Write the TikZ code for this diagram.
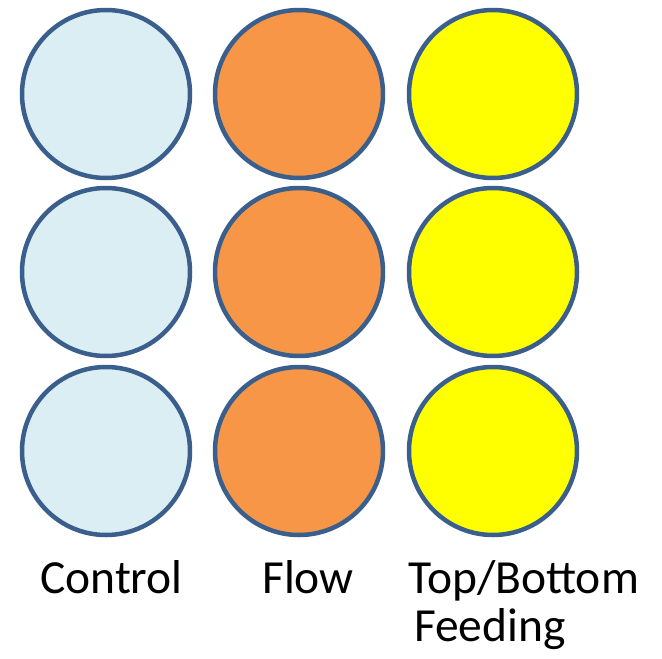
\documentclass[tikz,border=0pt]{standalone}
\usepackage{fontspec}
\setmainfont{Carlito}
\definecolor{ringblue}{HTML}{3A5F8C}
\definecolor{paleblue}{HTML}{DBEEF4}
\definecolor{orangefill}{HTML}{F79646}
\definecolor{yellowfill}{HTML}{FFFF00}
\tikzset{
  dish/.style={circle, draw=ringblue, line width=4.5pt, minimum size=168pt, inner sep=0pt},
  lab/.style={font=\fontsize{47.5}{48}\selectfont, inner sep=0pt, anchor=base west}
}
\begin{document}
\begin{tikzpicture}[x=1pt,y=-1pt]
\useasboundingbox (0,0) rectangle (662,659);
\foreach \r/\yy in {1/94,2/272,3/451}{
  \node[dish, fill=paleblue] (c\r) at (106,\yy) {};
  \node[dish, fill=orangefill] (f\r) at (299,\yy) {};
  \node[dish, fill=yellowfill] (t\r) at (493,\yy) {};
}
\node[lab] (control) at (40,593) {Control};
\node[lab] (flow) at (262,593) {Flow};
\node[lab] (top) at (408,593) {Top/Bottom};
\node[lab] (feeding) at (414,641) {Feeding};
\end{tikzpicture}
\end{document}
